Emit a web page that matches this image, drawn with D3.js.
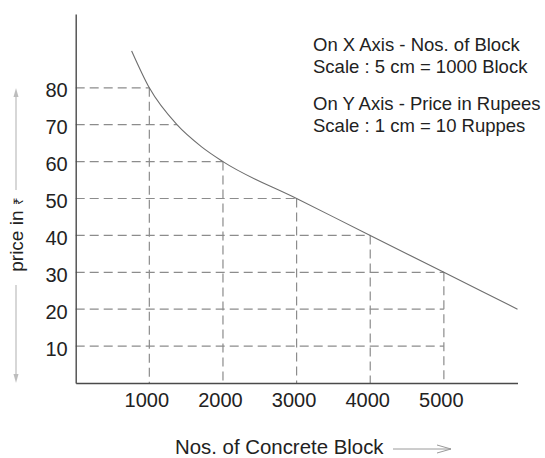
<!DOCTYPE html>
<html>
<head>
<meta charset="utf-8">
<script src="https://cdn.jsdelivr.net/npm/d3@7"></script>
<style>
  html, body { margin: 0; padding: 0; background: #fff; }
  svg { display: block; font-family: "Liberation Sans", Arial, sans-serif; }
</style>
</head>
<body>
<svg id="chart" width="545" height="458"></svg>
<script>
// ---- data ----
const xTicks = [1000, 2000, 3000, 4000, 5000];
const yTicks = [10, 20, 30, 40, 50, 60, 70, 80];
// demand curve (number of blocks vs price)
const curveBlocks = [760, 1000, 1375, 1710, 2000, 3000, 4000, 5000, 6000];
const curvePrice  = [90, 80, 70, 64, 60, 50, 40, 30, 20];
// dashed guide lines
const hGuidePrice = [10, 20, 30, 40, 50, 60, 70, 80];
const hGuideEnd   = [5000, 5000, 5000, 4000, 3000, 2000, 1375, 1000];
const vGuideBlocks = [1000, 2000, 3000, 4000, 5000];
const vGuideTop    = [80, 60, 50, 40, 30];
const notes = [
  "On X Axis - Nos. of Block",
  "Scale : 5 cm = 1000 Block",
  "On Y Axis - Price in Rupees",
  "Scale : 1 cm = 10 Ruppes"
];
const xTitle = "Nos. of Concrete Block";
const yTitle = "price in ";
const rupee = "₹";

// ---- drawing ----
const svg = d3.select("#chart");
const x = d3.scaleLinear().domain([0, 6000]).range([75.7, 517.5]);
const y = d3.scaleLinear().domain([0, 100]).range([383, 14]);

const gridColor = "#8c8c8c";
const dash = "9,5";

// horizontal guides
svg.append("g").selectAll("line")
  .data(hGuidePrice.map((p, i) => ({p, e: hGuideEnd[i]})))
  .join("line")
  .attr("x1", x(0)).attr("x2", d => x(d.e))
  .attr("y1", d => y(d.p)).attr("y2", d => y(d.p))
  .attr("stroke", gridColor).attr("stroke-width", 1.2)
  .attr("stroke-dasharray", dash);

// vertical guides
svg.append("g").selectAll("line")
  .data(vGuideBlocks.map((b, i) => ({b, t: vGuideTop[i]})))
  .join("line")
  .attr("x1", d => x(d.b)).attr("x2", d => x(d.b))
  .attr("y1", d => y(d.t)).attr("y2", y(0))
  .attr("stroke", gridColor).attr("stroke-width", 1.2)
  .attr("stroke-dasharray", dash);

// curve
const pts = curveBlocks.map((b, i) => [b, curvePrice[i]]);
svg.append("path")
  .attr("d", d3.line().x(d => x(d[0])).y(d => y(d[1])).curve(d3.curveMonotoneX)(pts))
  .attr("fill", "none").attr("stroke", "#6e6e6e").attr("stroke-width", 1.1);

// axes
const xAxis = svg.append("g").attr("transform", `translate(0,${y(0)})`)
  .call(d3.axisBottom(x).tickValues(xTicks).tickSizeInner(0).tickSizeOuter(0).tickPadding(10).tickFormat(d3.format("d")));
const yAxis = svg.append("g").attr("transform", `translate(${x(0)},0)`)
  .call(d3.axisLeft(y).tickValues(yTicks).tickSizeInner(0).tickSizeOuter(0).tickPadding(8).tickFormat(d3.format("d")));
[xAxis, yAxis].forEach(a => {
  a.select(".domain").attr("stroke", "#4a4a4a").attr("stroke-width", 1.4);
  a.selectAll("text").attr("font-size", "20px").attr("fill", "#222")
    .attr("font-family", "Liberation Sans, Arial, sans-serif");
});
yAxis.selectAll("text").attr("dy", "0.45em");
xAxis.selectAll("text").attr("dx", -3);

// annotation
const noteY = [51, 73, 110, 132];
svg.append("g").selectAll("text").data(notes).join("text")
  .attr("x", 313).attr("y", (d, i) => noteY[i])
  .attr("font-size", "18.5px").attr("fill", "#222")
  .text(d => d);

// x title + arrow
svg.append("text").attr("x", 175).attr("y", 454)
  .attr("font-size", "20.4px").attr("fill", "#222").text(xTitle);
svg.append("line").attr("x1", 393).attr("x2", 451).attr("y1", 449).attr("y2", 449)
  .attr("stroke", "#9a9a9a").attr("stroke-width", 1);
svg.append("path").attr("d", "M437,445 L451,449 L437,453")
  .attr("fill", "none").attr("stroke", "#9a9a9a").attr("stroke-width", 1);

// y title + arrows
const yt = svg.append("text")
  .attr("transform", "translate(23,235) rotate(-90)")
  .attr("text-anchor", "middle")
  .attr("font-size", "19px").attr("fill", "#222");
yt.append("tspan").text(yTitle);
yt.append("tspan").attr("font-size", "13px").text(rupee);

const arrowColor = "#bdbdbd";
svg.append("line").attr("x1", 16).attr("x2", 16).attr("y1", 190).attr("y2", 92)
  .attr("stroke", arrowColor).attr("stroke-width", 1.2);
svg.append("path").attr("d", "M13.5,97 L16,88 L18.5,97 Z").attr("fill", arrowColor);
svg.append("line").attr("x1", 16).attr("x2", 16).attr("y1", 285).attr("y2", 378)
  .attr("stroke", arrowColor).attr("stroke-width", 1.2);
svg.append("path").attr("d", "M13.5,374 L16,383 L18.5,374 Z").attr("fill", arrowColor);
</script>
</body>
</html>
